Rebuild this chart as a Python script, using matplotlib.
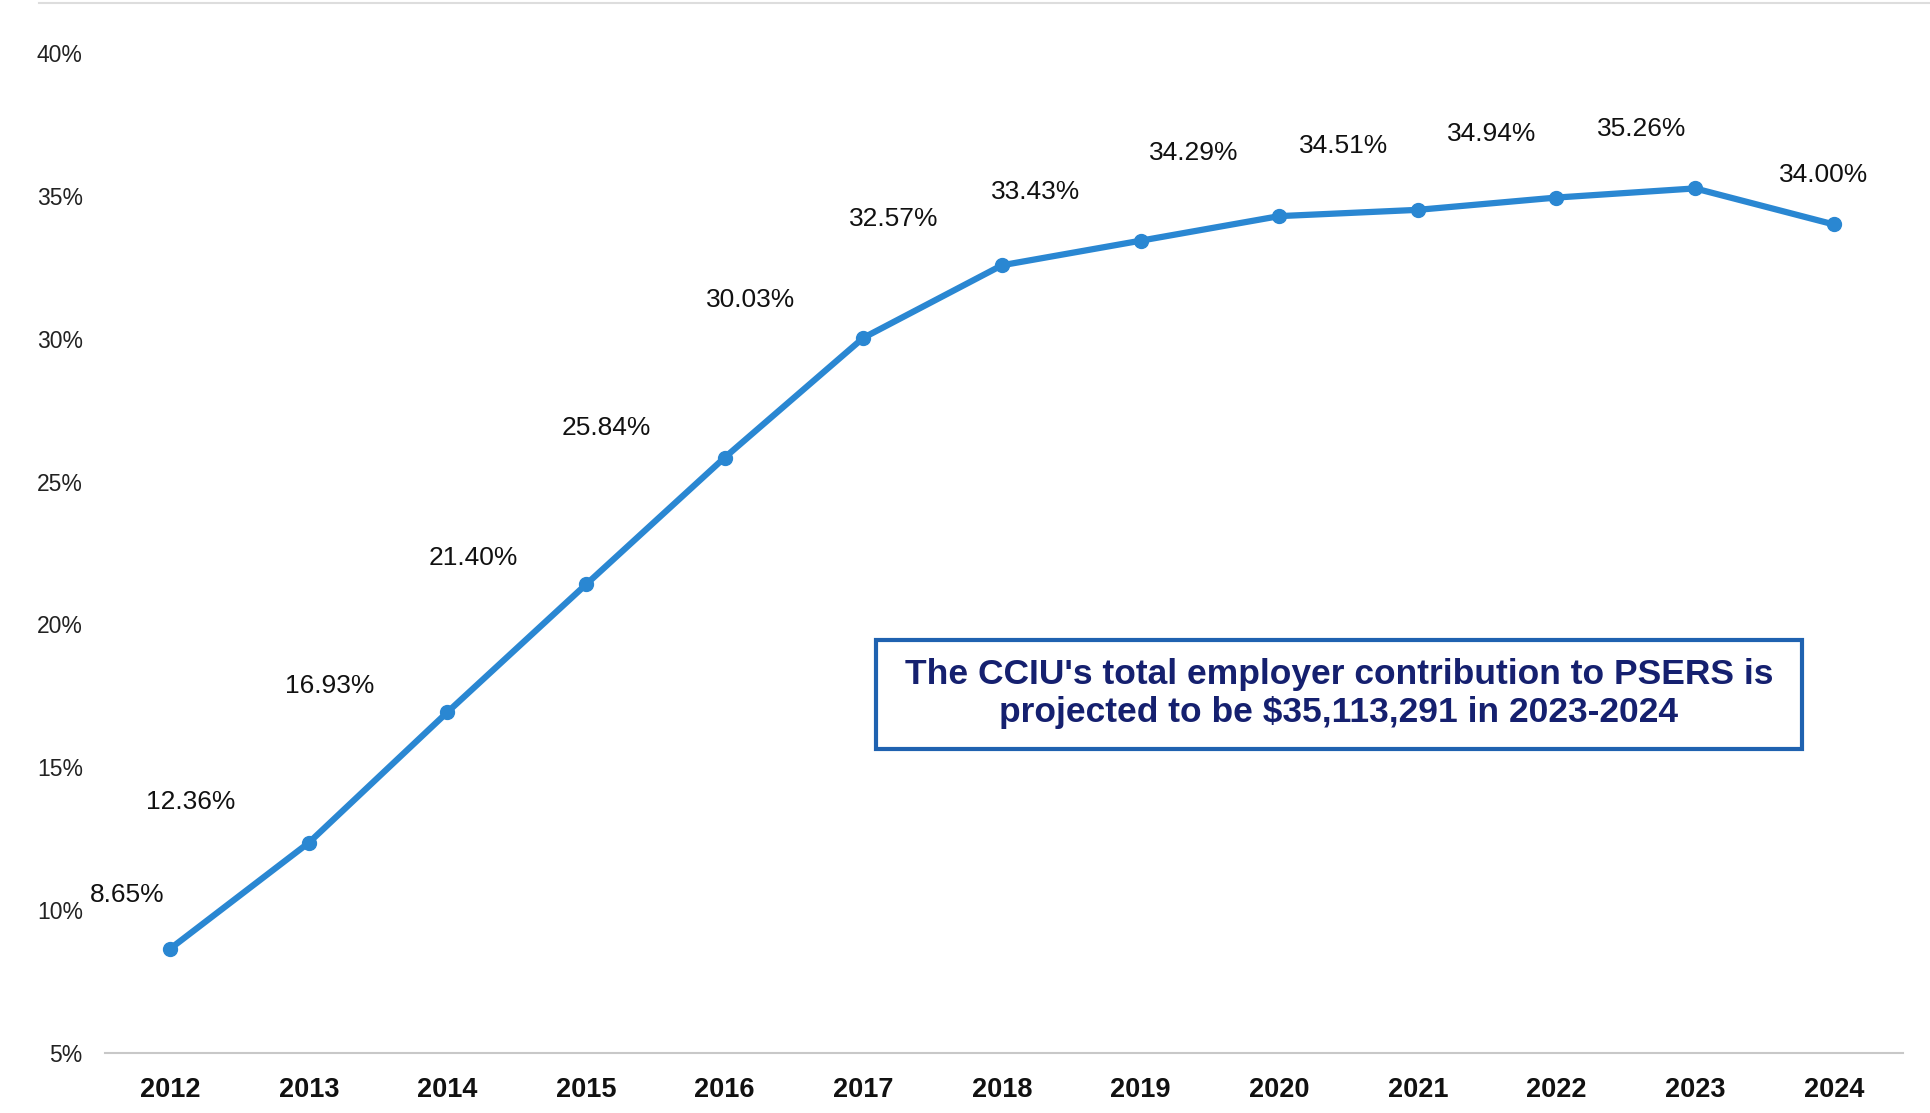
import matplotlib.pyplot as plt
from matplotlib.lines import Line2D
from matplotlib.patches import Rectangle

# contribution rate by fiscal year
years = [2012, 2013, 2014, 2015, 2016, 2017, 2018, 2019, 2020, 2021, 2022, 2023, 2024]
rates = [8.65, 12.36, 16.93, 21.40, 25.84, 30.03, 32.57, 33.43, 34.29, 34.51, 34.94, 35.26, 34.00]
y_ticks = [5, 10, 15, 20, 25, 30, 35, 40]
note = "The CCIU's total employer contribution to PSERS is\nprojected to be $35,113,291 in 2023-2024"

# label offsets from each point, in pixels (dx, dy)
label_offsets = [(-43, 54), (-118, 41), (-118, 26), (-113, 26), (-118, 30), (-113, 38),
                 (-108, 46), (-105, 49), (-85, 63), (-74, 64), (-65, 64), (-53, 59), (-10, 49)]

plt.rcParams['font.family'] = ['Liberation Sans', 'DejaVu Sans']

fig = plt.figure(figsize=(19.31, 11.13), dpi=100)
ax = fig.add_axes([0.0544, 0.0539, 0.9311, 0.8985])

line_blue = '#2a87d2'
ax.plot(years, rates, color=line_blue, lw=4.5, marker='o', ms=10,
        solid_capstyle='round', zorder=3)

for x, y, (dx, dy) in zip(years, rates, label_offsets):
    ax.annotate(f'{y:.2f}%', (x, y), xytext=(dx, dy), textcoords='offset pixels',
                ha='center', va='center', fontsize=19, color='#111111')

ax.set_xlim(2011.53, 2024.5)
ax.set_ylim(5, 40)
ax.set_xticks(years)
ax.set_xticklabels([str(y) for y in years], fontsize=19.5, fontweight='bold', color='#111111')
ax.set_yticks(y_ticks)
ax.set_yticklabels([f'{t}%' for t in y_ticks], fontsize=16.5, color='#222222')
ax.tick_params(axis='both', length=0)
ax.tick_params(axis='y', pad=16)
ax.tick_params(axis='x', pad=17)

for side in ['top', 'right', 'left']:
    ax.spines[side].set_visible(False)
ax.spines['bottom'].set_color('#c8c8c8')
ax.spines['bottom'].set_linewidth(1.5)

# callout box
box = Rectangle((0.4536, 0.327), 0.4796, 0.098, transform=fig.transFigure,
                facecolor='white', edgecolor='#1f62b0', linewidth=3, zorder=4)
fig.add_artist(box)
fig.text(0.6934, 0.377, note, ha='center', va='center', fontsize=25.5,
         fontweight='bold', color='#15206f', linespacing=1.22, zorder=5)

# faint rule along the top edge
fig.add_artist(Line2D([0.02, 1.0], [0.997, 0.997], transform=fig.transFigure,
                      color='#dddddd', lw=1.5))

fig.savefig('out.png', dpi=100)
